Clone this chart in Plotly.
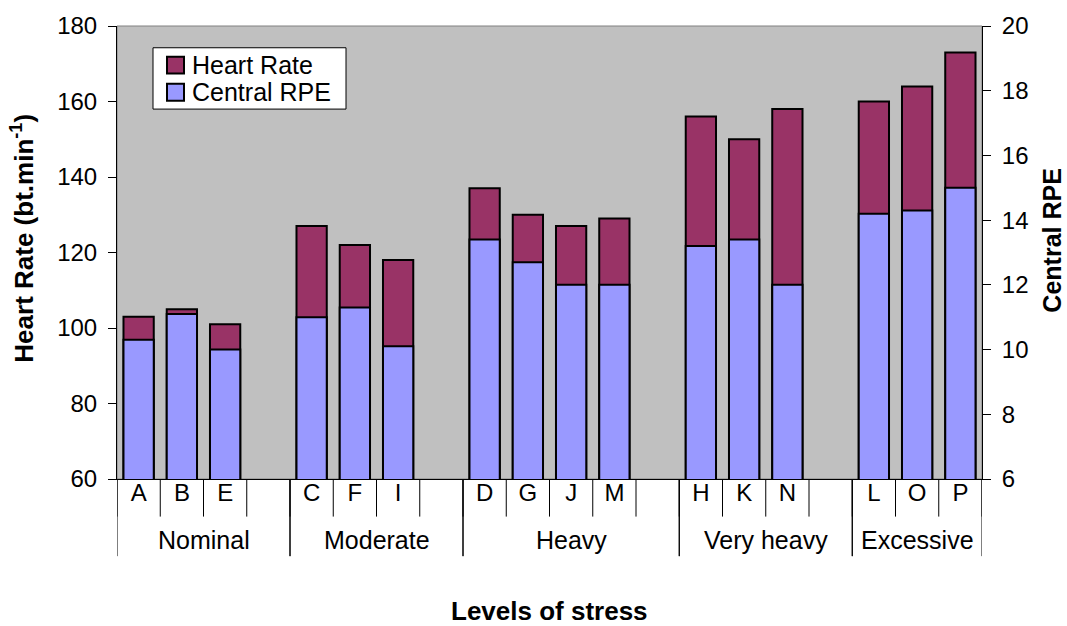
import plotly.graph_objects as go

# Subjects, their stress level, heart rate (bt/min) and central RPE
categories = ["A", "B", "E", "C", "F", "I", "D", "G", "J", "M", "H", "K", "N", "L", "O", "P"]
stress_level = ["Nominal", "Nominal", "Nominal",
                "Moderate", "Moderate", "Moderate",
                "Heavy", "Heavy", "Heavy", "Heavy",
                "Very heavy", "Very heavy", "Very heavy",
                "Excessive", "Excessive", "Excessive"]
heart_rate = [103, 105, 101, 127, 122, 118, 137, 130, 127, 129, 156, 150, 158, 160, 164, 173]
central_rpe = [10.3, 11.1, 10.0, 11.0, 11.3, 10.1, 13.4, 12.7, 12.0, 12.0, 13.2, 13.4, 12.0, 14.2, 14.3, 15.0]

hr_ticks = [60, 80, 100, 120, 140, 160, 180]
rpe_ticks = [6, 8, 10, 12, 14, 16, 18, 20]

HR_COLOR = "#993366"
RPE_COLOR = "#9999FF"
FONT = "Liberation Sans, Arial, sans-serif"
TICK_FS = 24
LABEL_FS = 25
TITLE_FS = 26

# plot-area geometry in pixels
PL, PR, PT, PB = 117, 982, 21, 479
PW, PH = PR - PL, PB - PT


def px(xp):
    return (xp - PL) / PW


def py(yp):
    return (PB - yp) / PH


# Slot positions: one empty slot closes every stress level except the last
positions, groups = [], []
slot = 0
for i, lvl in enumerate(stress_level):
    if i > 0 and lvl != stress_level[i - 1]:
        groups[-1][2] = slot + 0.5  # group span includes the gap slot
        slot += 1
    if not groups or groups[-1][0] != lvl:
        groups.append([lvl, slot - 0.5, None])
    positions.append(slot)
    slot += 1
groups[-1][2] = slot - 0.5
n_slots = slot

fig = go.Figure()
fig.add_trace(go.Bar(x=positions, y=heart_rate, name="Heart Rate", width=0.7,
                     marker=dict(color=HR_COLOR, line=dict(color="black", width=2)),
                     yaxis="y"))
fig.add_trace(go.Bar(x=positions, y=central_rpe, name="Central RPE", width=0.7,
                     marker=dict(color=RPE_COLOR, line=dict(color="black", width=2)),
                     yaxis="y2"))

shapes = []
annotations = []

# divider lines under the category axis
for b in range(n_slots + 1):
    shapes.append(dict(type="line", xref="x", yref="paper", x0=b - 0.5, x1=b - 0.5,
                       y0=0, y1=py(517), line=dict(color="black", width=1)))
for g in groups:
    for xb in (g[1], g[2]):
        shapes.append(dict(type="line", xref="x", yref="paper", x0=xb, x1=xb,
                           y0=0, y1=py(557), line=dict(color="black", width=1)))
    annotations.append(dict(x=(g[1] + g[2]) / 2, y=py(541), xref="x", yref="paper",
                            text=g[0], showarrow=False, yanchor="middle",
                            font=dict(family=FONT, size=LABEL_FS, color="black")))

# plot-area frame
shapes.append(dict(type="rect", xref="paper", yref="paper", x0=0, x1=1, y0=0, y1=1,
                   line=dict(color="#808080", width=1), layer="below"))

# legend box with swatches
shapes.append(dict(type="rect", xref="paper", yref="paper", x0=px(153), x1=px(346),
                   y0=py(105), y1=py(43), fillcolor="white",
                   line=dict(color="black", width=1), layer="above"))
for (name, col, yc) in [("Heart Rate", HR_COLOR, 60.5), ("Central RPE", RPE_COLOR, 88)]:
    shapes.append(dict(type="rect", xref="paper", yref="paper", x0=px(167), x1=px(184),
                       y0=py(yc + 8.5), y1=py(yc - 8.5), fillcolor=col,
                       line=dict(color="black", width=2), layer="above"))
    annotations.append(dict(x=px(190), y=py(yc), xref="paper", yref="paper", text=name,
                            showarrow=False, xanchor="left", yanchor="middle",
                            font=dict(family=FONT, size=LABEL_FS, color="black")))

# axis titles
annotations.append(dict(x=0.5, y=py(612), xref="paper", yref="paper",
                        text="<b>Levels of stress</b>", showarrow=False, yanchor="middle",
                        font=dict(family=FONT, size=TITLE_FS, color="black")))
annotations.append(dict(x=px(23), y=py(236), xref="paper", yref="paper",
                        text="<b>Heart Rate (bt.min<sup>-1</sup>)</b>", textangle=-90,
                        showarrow=False, xanchor="center", yanchor="middle",
                        font=dict(family=FONT, size=TITLE_FS, color="black")))
annotations.append(dict(x=px(1052), y=py(238), xref="paper", yref="paper",
                        text="<b>Central RPE</b>", textangle=-90,
                        showarrow=False, xanchor="center", yanchor="middle",
                        font=dict(family=FONT, size=25, color="black")))

fig.update_layout(
    width=1067, height=626, autosize=False,
    margin=dict(l=PL, r=1067 - PR, t=PT, b=626 - PB),
    paper_bgcolor="white", plot_bgcolor="#C0C0C0",
    barmode="overlay", showlegend=False,
    font=dict(family=FONT, size=TICK_FS, color="black"),
    xaxis=dict(range=[-0.5, n_slots - 0.5], tickvals=positions, ticktext=categories,
               ticks="", showgrid=False, zeroline=False, showline=True,
               linecolor="black", linewidth=1, fixedrange=True, ticklabelstandoff=-8,
               tickfont=dict(family=FONT, size=TICK_FS, color="black")),
    yaxis=dict(range=[60, 180], tickvals=hr_ticks, ticks="outside", ticklen=8,
               tickcolor="black", showgrid=False, zeroline=False, showline=True,
               linecolor="black", linewidth=1, ticklabelstandoff=6,
               tickfont=dict(family=FONT, size=TICK_FS, color="black")),
    yaxis2=dict(range=[6, 20], tickvals=rpe_ticks, ticks="outside", ticklen=8,
                tickcolor="black", showgrid=False, zeroline=False, showline=True,
                linecolor="black", linewidth=1, overlaying="y", side="right",
                ticklabelstandoff=6,
                tickfont=dict(family=FONT, size=TICK_FS, color="black")),
    shapes=shapes, annotations=annotations,
)

fig.write_html("out.html")
